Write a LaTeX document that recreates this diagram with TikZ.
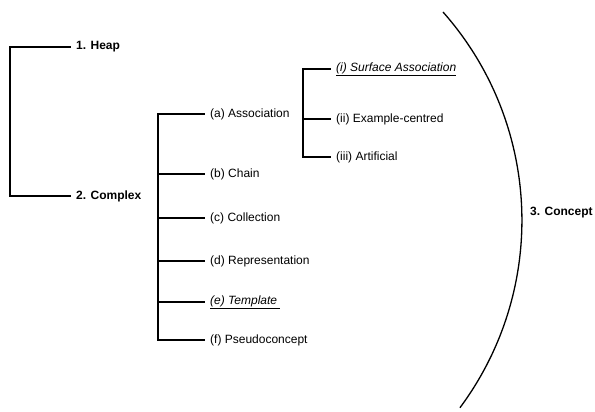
\documentclass[tikz,border=0pt]{standalone}
\usepackage{fontspec}
\setmainfont{Liberation Sans}
\usepackage{xcolor}

\tikzset{
	stage/.style={anchor=west, inner xsep=6pt, inner ysep=2pt, font=\fontsize{12}{14}\selectfont\bfseries},
	kind/.style={anchor=west, inner xsep=6pt, inner ysep=2pt, font=\fontsize{12}{14}\selectfont},
	branch/.style={line width=1.3pt, line cap=rect},
}

\begin{document}
\begin{tikzpicture}[x=1pt,y=1pt]
		\useasboundingbox (0,0) rectangle (595,412);
		\node[stage](heap) at (70,365) {1. Heap};
		\node[stage](complex) at (70,216) {2. Complex};
		\draw[branch] (heap.west)--++(-60,0) |- (complex.west);
		% complexes
		\node[kind](a) at (204,298) {(a) Association};
		\node[kind](b) at (204,238) {(b) Chain};
		\node[kind](c) at (204,194) {(c) Collection};
		\node[kind](d) at (204,151) {(d) Representation};
		\node[kind](e) at (204,110) {\underline{\textit{(e) Template\ }}};
		\node[kind](f) at (204,72) {(f) Pseudoconcept};
		\draw[branch] (a.west)--++(-46,0) |- (f.west);
		\foreach \n in {b,c,d,e}
			\draw[branch] (\n.west)--++(-46,0);
		% associations
		\node[kind](i) at (330,343) {\underline{\textit{(i) Surface Association}}};
		\node[kind](ii) at (330,293) {(ii) Example-centred};
		\node[kind](iii) at (330,255) {(iii) Artificial};
		\draw[branch] (i.west)--++(-27,0) |- (iii.west);
		\draw[branch] (ii.west)--++(-27,0);
		% concept
		\coordinate(arctop) at (443,400);
		\node[stage](concept) at (524,199) {3. Concept};
		\draw[line width=1.3pt] (arctop) arc[start angle=41.5, end angle=-36.6, radius=314.4pt];
	\end{tikzpicture}
\end{document}
